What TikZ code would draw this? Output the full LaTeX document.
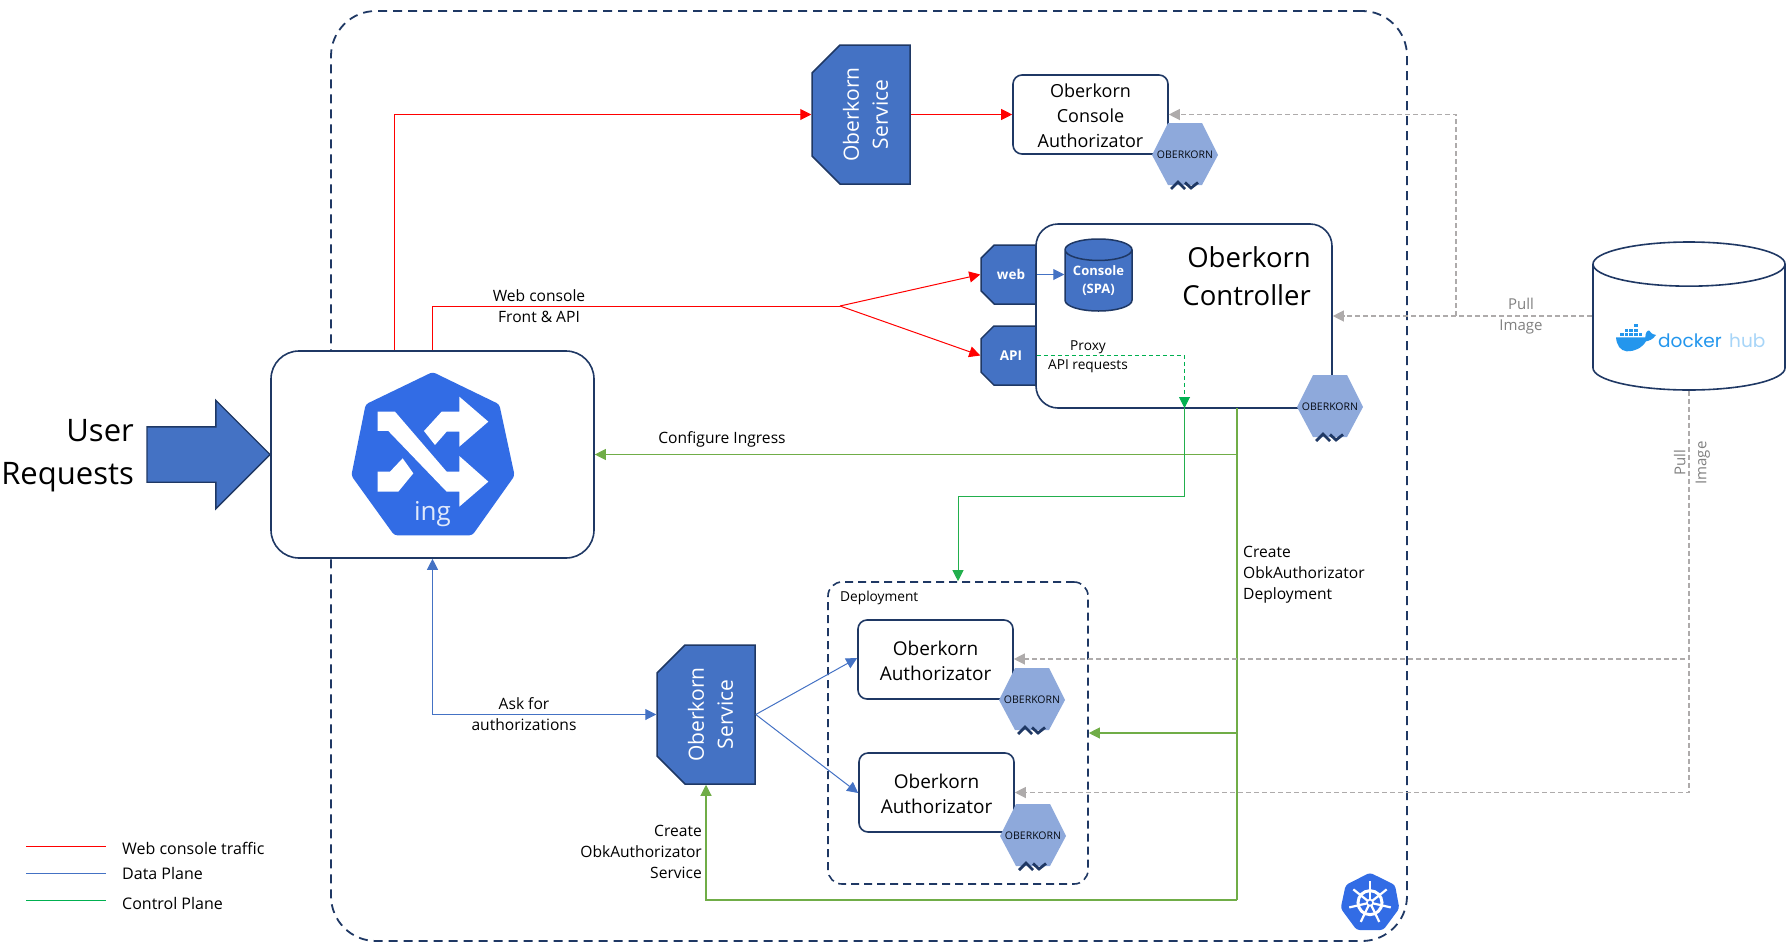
\documentclass[tikz,border=0pt]{standalone}
\usepackage{fontspec}
\setmainfont{Open Sans}
\newfontfamily\logofont{Poppins}
\usetikzlibrary{arrows.meta,shapes.geometric,shapes.misc,shapes.arrows}
\definecolor{navy}{HTML}{1F3864}
\definecolor{svcblue}{HTML}{4472C4}
\definecolor{kubeblue}{HTML}{326CE5}
\definecolor{badgeblue}{HTML}{8EA9DB}
\definecolor{webred}{HTML}{FF0000}
\definecolor{ctlgreen}{HTML}{70AD47}
\definecolor{ctlpale}{HTML}{A9D18E}
\definecolor{proxygreen}{HTML}{00B050}
\definecolor{pullgrey}{HTML}{AEABAB}
\definecolor{dockerblue}{HTML}{2396ED}
\tikzset{
  box/.style={draw=navy, line width=1.6pt, fill=white, rounded corners=9pt, align=center, inner sep=0pt},
  authbox/.style={box, minimum width=155pt, minimum height=79pt, font=\fontsize{19}{25.5}\selectfont},
  svcbox/.style={draw=navy, line width=1.5pt, fill=svcblue, text=white, chamfered rectangle, chamfered rectangle xsep=14pt, chamfered rectangle ysep=14pt, chamfered rectangle corners={north west,north east}, rotate=90, minimum width=139pt, minimum height=98pt, align=center, inner sep=0pt, text height=54pt, font=\fontsize{21}{29}\selectfont},
  portbox/.style={draw=navy, line width=1.5pt, fill=svcblue, text=white, chamfered rectangle, chamfered rectangle xsep=8pt, chamfered rectangle ysep=8pt, chamfered rectangle corners={north west,south west}, minimum width=55pt, minimum height=59pt, inner sep=0pt, font=\bfseries\fontsize{13.5}{16}\selectfont},
  note/.style={align=center, inner sep=0pt, font=\fontsize{15.6}{21}\selectfont},
  smallnote/.style={align=center, inner sep=0pt, font=\fontsize{13.7}{19}\selectfont},
  greynote/.style={align=center, inner sep=0pt, text=black!50, font=\fontsize{15}{21}\selectfont},
  webline/.style={draw=webred, line width=1pt, ->},
  dataline/.style={draw=svcblue, line width=1pt, ->},
  ctlline/.style={draw=ctlgreen, line width=1.1pt, ->},
  pullline/.style={draw=pullgrey, line width=1.2pt, dash pattern=on 5pt off 3pt, ->},
  pics/badge/.style={code={
    \fill[badgeblue] (-33,0) -- (-17,-32) -- (17,-32) -- (33,0) -- (17,30) -- (-17,30) -- cycle;
    \node[inner sep=0pt, text=black!80!navy, font=\fontsize{10.5}{12}\selectfont] (-txt) at (0,0) {OBERKORN};
    \draw[navy, line width=2.8pt] (-14,34) -- (-7,27) -- (0,34) (0,27.5) -- (6,33) -- (13,27.5);
  }}
}
\begin{document}
\begin{tikzpicture}[x=1pt, y=-1pt, >={Triangle[length=11pt,width=11pt]}]
\useasboundingbox (0,0) rectangle (1791,948);

% cluster frame
\node[draw=navy, line width=1.8pt, dash pattern=on 9pt off 6pt, rounded corners=45pt, minimum width=1076pt, minimum height=930pt, inner sep=0pt] (cluster) at (869,476) {};

% boxes
\node[box, rounded corners=28pt, minimum width=323pt, minimum height=207pt] (ingress) at (432.5,454.5) {};
\node[svcbox] (svcTop) at (861,114.5) {Oberkorn\\Service};
\node[authbox, font=\fontsize{18}{25}\selectfont] (authConsole) at (1090.5,114.5) {\rule{0pt}{17pt}Oberkorn\\Console\\Authorizator};
\node[portbox] (web) at (1008.5,274.5) {\hspace{5pt}web};
\node[portbox] (api) at (1008.5,355.5) {\hspace{5pt}API};
\node[box, rounded corners=22pt, minimum width=296pt, minimum height=184pt] (ctrl) at (1184,316) {};
\node[inner sep=0pt, align=right, font=\fontsize{27.5}{37.5}\selectfont, anchor=east] (ctrlText) at (1311,276) {Oberkorn\\Controller};
\node[cylinder, anchor=shape center, shape border rotate=90, aspect=0.32, draw=navy, line width=1.5pt, cylinder uses custom fill, cylinder body fill=svcblue, cylinder end fill=svcblue, minimum height=72pt, inner ysep=0pt, inner xsep=33.5pt] (spa) at (1098.5,275) {};
\node[inner sep=0pt, text=white, align=center, font=\bfseries\fontsize{13}{18}\selectfont] (spaText) at (1098.5,280.5) {Console\\(SPA)};
\node[cylinder, anchor=shape center, shape border rotate=90, aspect=0.23, draw=navy, line width=1.6pt, fill=white, minimum height=148pt, inner ysep=0pt, inner xsep=96pt] (hub) at (1689,316) {};
\node[draw=navy, line width=1.6pt, dash pattern=on 8pt off 5pt, rounded corners=14pt, minimum width=260pt, minimum height=302pt, inner sep=0pt] (deploy) at (958,733) {};
\node[svcbox] (svcLow) at (706,714.5) {Oberkorn\\Service};
\node[authbox] (authA) at (935.5,659.5) {\rule{0pt}{17pt}Oberkorn\\Authorizator};
\node[authbox] (authB) at (936.5,792.5) {\rule{0pt}{17pt}Oberkorn\\Authorizator};

% junctions
\coordinate (split) at (840,306);
\coordinate (trunk) at (1237,408);
\coordinate (proxyEnd) at (1184.5,408);
\coordinate (pullTurn) at (1456,316);

% web console traffic
\draw[webline] ([xshift=-38pt]ingress.north) |- (svcTop.north);
\draw[webline] (svcTop.south) -- (authConsole.west);
\draw[webred, line width=1pt] (ingress.north) |- (split);
\draw[webline] (split) -- (web.west);
\draw[webline] (split) -- (api.west);

% data plane
\draw[dataline, <->] (ingress.south) |- (svcLow.north);
\draw[dataline] (svcLow.south) -- ([yshift=1.5pt]authA.west);
\draw[dataline] (svcLow.south) -- ([yshift=-0.5pt]authB.west);
\draw[dataline] (web.east) -- (spa.west |- web.east);

% control plane
\draw[ctlpale, line width=1.4pt] (trunk |- ingress.east) -- (ingress.east);
\draw[ctlgreen, line width=1pt, ->] (trunk |- ingress.east) -- (ingress.east);
\draw[ctlline, -] (trunk) -- (1237,900);
\draw[ctlline] (1237,900) -| (svcLow.west);
\draw[ctlline] (trunk |- deploy.east) -- (deploy.east);
\draw[proxygreen, line width=0.9pt, dash pattern=on 4pt off 3pt, ->] (api.east) -| (proxyEnd);
\draw[proxygreen!70!ctlgreen, line width=1pt, ->] (proxyEnd) |- (958,496) -- (deploy.north);

% image pulls
\draw[pullline] (hub.west |- ctrl.east) -- (ctrl.east);
\draw[pullline] (pullTurn) |- (authConsole.east);
\draw[pullline] (hub.south) |- ([yshift=0.5pt]authA.east);
\draw[pullline] (hub.south) |- (authB.east);

% badges
\pic (badgeConsole) at (1185,155) {badge};
\pic (badgeCtrl) at (1330,407) {badge};
\pic (badgeA) at (1032,700) {badge};
\pic (badgeB) at (1033,836) {badge};

% ingress logo
\begin{scope}[shift={(250,330)}, x=0.3333pt, y=-0.3333pt]
\fill[kubeblue, rounded corners=3pt] (548,126) -- (748,223) -- (794,437) -- (667,616) -- (433,616) -- (304,437) -- (347,223) -- cycle;
\fill[white] (383,245) -- (435,245) -- (590,425) -- (628,425) -- (628,378) -- (715,455) -- (628,530) -- (628,485) -- (590,485) -- (415,303) -- (383,303) -- cycle;
\fill[white] (628,200) -- (715,275) -- (628,350) -- (628,305) -- (590,305) -- (555,345) -- (522,303) -- (575,245) -- (628,245) -- cycle;
\fill[white] (383,425) -- (420,425) -- (458,385) -- (490,430) -- (445,485) -- (383,485) -- cycle;
\end{scope}
\node[inner sep=0pt, text=white!85!kubeblue, font=\fontsize{26}{26}\selectfont] (ingText) at (432.5,514) {ing};

% user arrow
\node[draw=navy, line width=1.4pt, fill=svcblue, shape=single arrow, anchor=tip, single arrow head extend=26.5pt, single arrow tip angle=90, single arrow head indent=0pt, minimum height=123pt, inner xsep=0pt, inner ysep=27pt] (userArrow) at (271,454.5) {};
\node[inner sep=0pt, align=right, anchor=east, font=\fontsize{31}{43}\selectfont] (userText) at (134,456) {User\\Requests};

% docker hub logo
\begin{scope}[shift={(1560,220)}, x=0.3333pt, y=-0.3333pt]
\fill[dockerblue] (168,352) -- (256,352) .. controls (256,338) and (262,330) .. (268,332) .. controls (272,338) and (274,342) .. (288,345) .. controls (278,360) and (266,362) .. (258,364) .. controls (245,385) and (222,395) .. (200,394) .. controls (180,392) and (170,375) .. (168,352) -- cycle;
\foreach \i in {0,...,4}{\fill[dockerblue] (180+\i*14,339) rectangle ++(11,9);}
\foreach \i in {1,...,3}{\fill[dockerblue] (180+\i*14,326) rectangle ++(11,9);}
\fill[dockerblue] (222,313) rectangle ++(12,9);
\end{scope}
\node[inner sep=0pt, anchor=west, text=dockerblue, font=\logofont\fontsize{18.5}{21}\selectfont] (dockerText) at (1658,341) {docker};
\node[inner sep=0pt, anchor=west, text=dockerblue!40, font=\logofont\fontsize{18.5}{21}\selectfont] (hubText) at (1729,341) {hub};

% kubernetes logo
\begin{scope}[shift={(1300,840)}, x=0.3333pt, y=-0.3333pt]
\fill[kubeblue, rounded corners=3pt] (210,98) -- (285,135) -- (298,205) -- (250,270) -- (170,270) -- (122,205) -- (137,135) -- cycle;
\draw[white, line width=3pt] (210,188) circle (36);
\foreach \a in {0,...,6}{\draw[white, line width=2.2pt] (210,188) -- ++(-90+\a*51.43:64);}
\fill[white] (210,188) circle (12);
\fill[kubeblue] (210,188) circle (6);
\end{scope}

% labels
\node[note] (lblWeb) at (539,306) {Web console\\Front \& API};
\node[smallnote] (lblProxy) at (1088,357) {Proxy\\API requests};
\node[note] (lblIngress) at (722,439) {Configure Ingress};
\node[note] (lblAsk) at (524,714) {Ask for\\authorizations};
\node[note, align=left, anchor=west] (lblDeploy) at (1243,575) {Create\\ObkAuthorizator\\Deployment};
\node[note, align=right, anchor=east] (lblService) at (702,852) {Create\\ObkAuthorizator\\Service};
\node[smallnote, anchor=west] (lblDeployment) at (840,598) {Deployment};
\node[greynote] (lblPullA) at (1521,316) {Pull\\Image};
\node[greynote, rotate=90] (lblPullB) at (1692,463) {Pull\\Image};

% legend
\coordinate (legRedA) at (26,846); \coordinate (legRedB) at (106,846);
\coordinate (legBlueA) at (26,873); \coordinate (legBlueB) at (106,873);
\coordinate (legGreenA) at (26,900.6); \coordinate (legGreenB) at (106,900.6);
\draw[webred, line width=1pt] (legRedA) -- (legRedB);
\draw[svcblue, line width=1pt] (legBlueA) -- (legBlueB);
\draw[proxygreen, line width=1.2pt] (legGreenA) -- (legGreenB);
\node[note, anchor=west, font=\fontsize{16}{21}\selectfont] (legWeb) at (122,848) {Web console traffic};
\node[note, anchor=west, font=\fontsize{16}{21}\selectfont] (legData) at (122,873) {Data Plane};
\node[note, anchor=west, font=\fontsize{16}{21}\selectfont] (legCtl) at (122,903) {Control Plane};
\end{tikzpicture}
\end{document}
